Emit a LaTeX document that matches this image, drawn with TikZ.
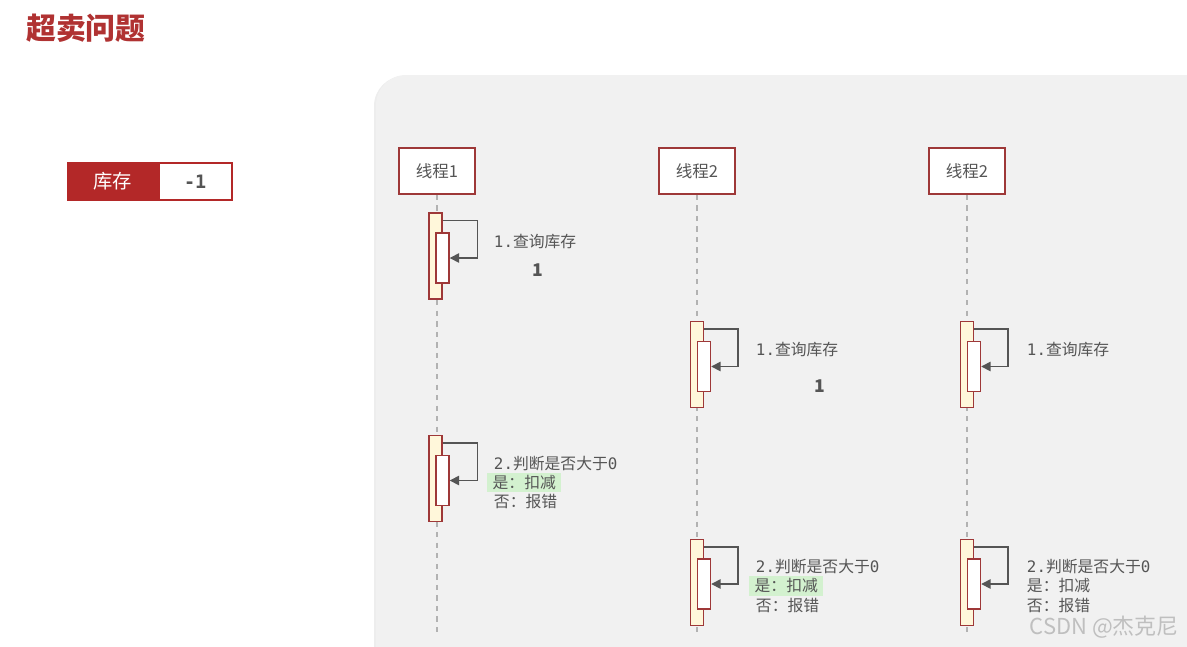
\documentclass[tikz,border=0pt]{standalone}
\usepackage{fontspec}
\setmainfont{Noto Sans CJK SC}
\newfontfamily\mono{DejaVu Sans Mono}
\usetikzlibrary{arrows.meta,positioning}
\definecolor{titlered}{HTML}{B03232}
\definecolor{boxred}{HTML}{9E3838}
\definecolor{stockred}{HTML}{B32828}
\definecolor{actfill}{HTML}{FFF7DA}
\definecolor{panelgray}{HTML}{F1F1F1}
\definecolor{txtgray}{HTML}{555555}
\definecolor{hlgreen}{HTML}{D3F1CF}
\begin{document}
\begin{tikzpicture}[x=0.02cm, y=-0.02cm, font=\fontsize{9}{11}\selectfont, head/.style={draw=boxred, line width=0.9pt, fill=white, minimum width=1.52cm, minimum height=0.92cm, inner sep=0pt, text=txtgray, font=\fontsize{9.4}{11}\selectfont}, outer/.style={draw=boxred, line width=0.8pt, fill=actfill, minimum width=0.26cm, minimum height=1.72cm, inner sep=0pt}, inner/.style={draw=boxred, line width=0.8pt, fill=white, minimum width=0.26cm, minimum height=1.0cm, inner sep=0pt}, lbl/.style={anchor=west, text=txtgray, inner sep=1.5pt}, hl/.style={lbl, fill=hlgreen, inner xsep=3pt}, val/.style={text=txtgray, font=\bfseries\fontsize{10}{11}\selectfont}, arrow/.style={-{Triangle[length=1.9mm, width=1.9mm]}, draw=txtgray, line width=0.9pt}, life/.style={draw=black!30, dashed, line width=0.6pt}]
\useasboundingbox (0,0) rectangle (1187,646);
% title and stock box
\node[anchor=west, text=titlered, font=\bfseries\fontsize{17}{19}\selectfont] (title) at (20,28) {超卖问题};
\node[draw=stockred, line width=1pt, fill=stockred, text=white, minimum width=1.78cm, minimum height=0.74cm, inner sep=0pt, font=\fontsize{11}{12}\selectfont] (stock) at (112.5,181.5) {库存};
\node[draw=stockred, line width=1pt, fill=white, text=txtgray, minimum width=1.46cm, minimum height=0.74cm, inner sep=0pt, font=\bfseries\fontsize{10.5}{12}\selectfont, right=0pt of stock] (count) {{\mono -1}};
% panel
\fill[black!7, rounded corners=0.6cm] (374,76) rectangle (1240,700);
\fill[panelgray, rounded corners=0.6cm] (376,75) rectangle (1240,700);
% lifeline heads
\node[head] (t1) at (437,171) {线程1};
\node[head] (t2) at (697,171) {线程2};
\node[head] (t3) at (967,171) {线程2};
\coordinate (e1) at (437,632);
\coordinate (e2) at (697,632);
\coordinate (e3) at (967,632);
\draw[life] (t1) -- (e1);
\draw[life] (t2) -- (e2);
\draw[life] (t3) -- (e3);
% thread 1
\node[outer] (a1) at (435.5,256) {};
\node[inner] (b1) at (442.5,258) {};
\draw[arrow] ([yshift=-0.16cm]a1.north east) -- ++(35,0) |- (b1.east);
\node[lbl] (q1) at (491,242) {{\mono 1.}查询库存};
\node[val] (v1) at (538,270) {1};
\node[outer] (a2) at (435.5,478.5) {};
\node[inner] (b2) at (442.5,480.5) {};
\draw[arrow] ([yshift=-0.16cm]a2.north east) -- ++(35,0) |- (b2.east);
\node[lbl] (c1) at (491,464) {{\mono 2.}判断是否大于{\mono 0}};
\node[hl] (y1) at (487,482.5) {是：扣减};
\node[lbl] (n1) at (491,501) {否：报错};
% thread 2
\node[outer] (a3) at (697,364.5) {};
\node[inner] (b3) at (704,366.5) {};
\draw[arrow] ([yshift=-0.16cm]a3.north east) -- ++(34,0) |- (b3.east);
\node[lbl] (q2) at (753,350) {{\mono 1.}查询库存};
\node[val] (v2) at (820,386) {1};
\node[outer] (a4) at (697,582.5) {};
\node[inner] (b4) at (704,584) {};
\draw[arrow] ([yshift=-0.16cm]a4.north east) -- ++(34,0) |- (b4.east);
\node[lbl] (c2) at (753,567) {{\mono 2.}判断是否大于{\mono 0}};
\node[hl] (y2) at (749,586) {是：扣减};
\node[lbl] (n2) at (753,605) {否：报错};
% thread 3
\node[outer] (a5) at (967,364.5) {};
\node[inner] (b5) at (974,366.5) {};
\draw[arrow] ([yshift=-0.16cm]a5.north east) -- ++(34,0) |- (b5.east);
\node[lbl] (q3) at (1024,350) {{\mono 1.}查询库存};
\node[outer] (a6) at (967,582.5) {};
\node[inner] (b6) at (974,584) {};
\draw[arrow] ([yshift=-0.16cm]a6.north east) -- ++(34,0) |- (b6.east);
\node[lbl] (c3) at (1024,567) {{\mono 2.}判断是否大于{\mono 0}};
\node[lbl] (y3) at (1024,586) {是：扣减};
\node[lbl] (n3) at (1024,605) {否：报错};
% watermark
\node[anchor=east, text=black!25, font=\fontsize{12.5}{14}\selectfont] (mark) at (1185,627) {CSDN @杰克尼};
\end{tikzpicture}
\end{document}
